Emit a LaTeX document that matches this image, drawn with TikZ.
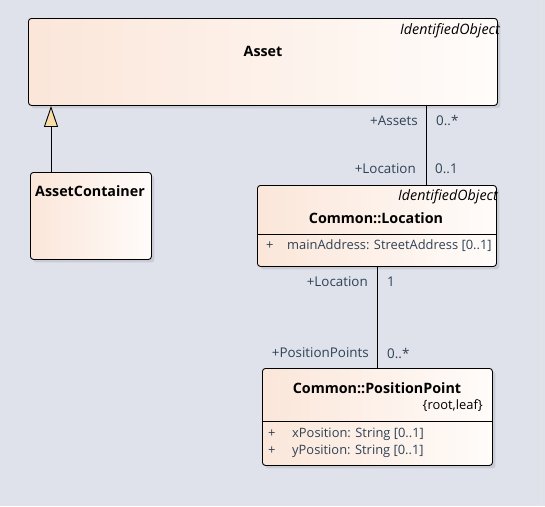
\documentclass[tikz,border=0pt]{standalone}
\usepackage{fontspec}
\setmainfont{Open Sans}
\usetikzlibrary{arrows.meta}
\definecolor{canvas}{HTML}{DFE2EA}
\definecolor{peach}{HTML}{FBE6D9}
\definecolor{cream}{HTML}{FFFCFA}
\definecolor{shadowgray}{HTML}{C9CCD4}
\definecolor{attrtext}{HTML}{2E4256}
\definecolor{genfill}{HTML}{FADBAA}
\tikzset{
	classbox/.style={draw=black, line width=0.9pt, rounded corners=3pt, left color=peach, right color=cream,
		preaction={fill=shadowgray, transform canvas={xshift=3pt, yshift=-3pt}}},
	classname/.style={font=\fontsize{14.3}{16}\selectfont\bfseries, inner sep=0pt},
	stereo/.style={font=\fontsize{14.3}{16}\selectfont\itshape, inner sep=0pt, anchor=east},
	attr/.style={font=\fontsize{12.9}{15}\selectfont, text=attrtext, inner sep=0pt, anchor=west},
	rolelabel/.style={font=\fontsize{13.4}{15}\selectfont, text=attrtext, inner sep=0pt},
	assoc/.style={draw=black, line width=0.9pt},
	generalization/.style={draw=black, line width=0.9pt, -{Triangle[width=14pt, length=21pt, fill=genfill]}}
}
\begin{document}
\begin{tikzpicture}[x=1pt, y=-1pt]
	\fill[canvas] (0,0) rectangle (545,506);
	\useasboundingbox (0,0) rectangle (545,506);
	\draw[black!10] (541,0) -- (541,506);

	% classes
	\node[classbox, minimum width=469pt, minimum height=87pt, anchor=north west] (asset) at (28,18) {};
	\node[classbox, minimum width=121pt, minimum height=87pt, anchor=north west] (container) at (30,172) {};
	\node[classbox, minimum width=239pt, minimum height=81pt, anchor=north west] (loc) at (257,185) {};
	\node[classbox, minimum width=230pt, minimum height=97pt, anchor=north west] (pp) at (262,368) {};

	\node[stereo] (assetstereo) at (500,31) {IdentifiedObject};
	\node[classname] (assetname) at (263,51) {Asset};
	\node[classname] (containername) at (90,191) {AssetContainer};

	\node[stereo] (locstereo) at (498,197) {IdentifiedObject};
	\node[classname] (locname) at (376,218) {Common::Location};
	\draw[black, line width=0.9pt] (loc.west |- 0,234) -- (loc.east |- 0,234);
	\node[attr] (locplus) at (266,246) {+};
	\node[attr] (locattr) at (287,246) {mainAddress: StreetAddress [0..1]};

	\node[classname] (ppname) at (377,388) {Common::PositionPoint};
	\node[attr, text=black, anchor=east] (pptags) at (483,406) {\{root,leaf\}};
	\draw[black, line width=0.9pt] (pp.west |- 0,421) -- (pp.east |- 0,421);
	\node[attr] (ppplusx) at (268,434) {+};
	\node[attr] (ppx) at (292,434) {xPosition: String [0..1]};
	\node[attr] (ppplusy) at (268,451) {+};
	\node[attr] (ppy) at (292,451) {yPosition: String [0..1]};

	% connectors
	\draw[generalization] (container.north -| 51,0) -- (asset.south -| 51,0);
	\draw[assoc] (asset.south -| 426,0) -- (loc.north -| 426,0);
	\draw[assoc] (loc.south -| 377,0) -- (pp.north -| 377,0);

	% role names and multiplicities
	\node[rolelabel, anchor=east] (assetsrole) at (418,121) {+Assets};
	\node[rolelabel, anchor=west] (assetsmult) at (436,121) {0..*};
	\node[rolelabel, anchor=east] (locrole) at (416,169) {+Location};
	\node[rolelabel, anchor=west] (locmult) at (435,169) {0..1};
	\node[rolelabel, anchor=east] (locrole2) at (368,282) {+Location};
	\node[rolelabel, anchor=west] (locmult2) at (387,282) {1};
	\node[rolelabel, anchor=east] (pprole) at (369,353) {+PositionPoints};
	\node[rolelabel, anchor=west] (ppmult) at (387,353) {0..*};
\end{tikzpicture}
\end{document}
